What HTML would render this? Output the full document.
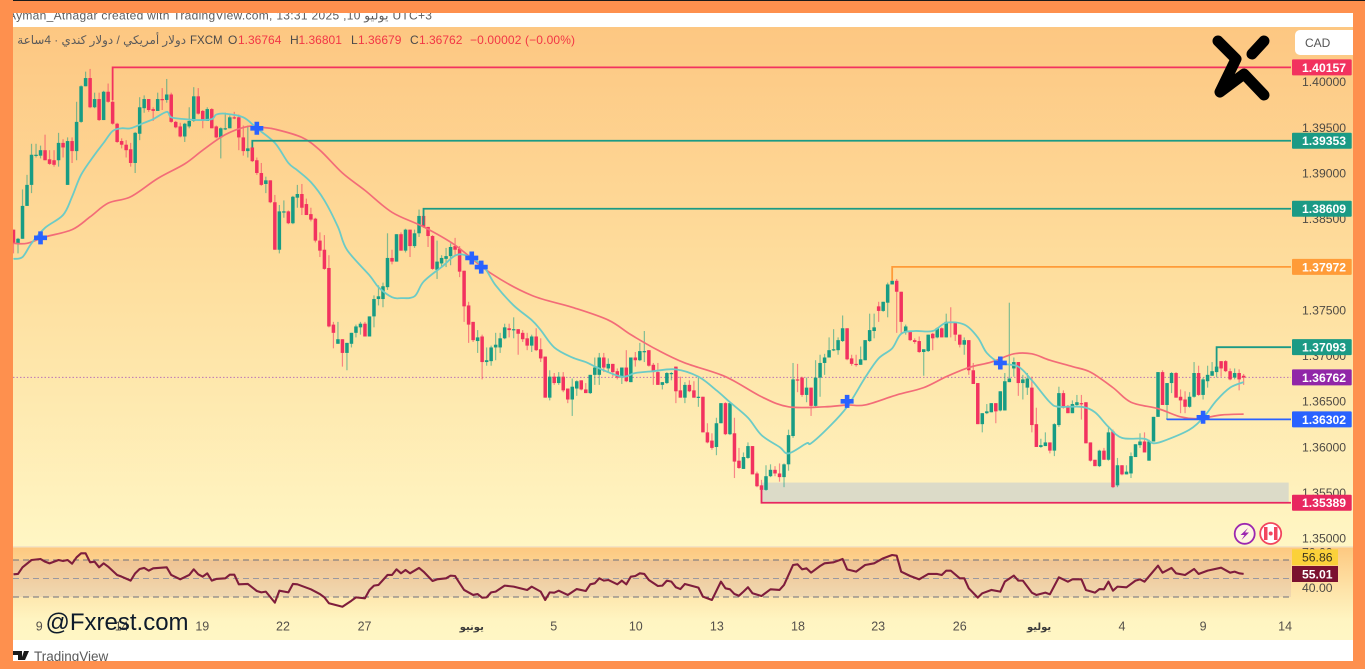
<!DOCTYPE html>
<html lang="en">
<head>
<meta charset="utf-8">
<title>USD/CAD 4H chart</title>
<style>
html,body{margin:0;padding:0;background:#fe904e;}
#chart{display:block;width:1365px;height:669px;overflow:hidden;font-family:"Liberation Sans","DejaVu Sans",sans-serif;}
</style>
</head>
<body>
<svg id="chart" xmlns="http://www.w3.org/2000/svg" width="1365" height="669" viewBox="0 0 1365 669">
<defs>
<linearGradient id="mainBg" x1="0" y1="0" x2="0" y2="1"><stop offset="0" stop-color="#fdc782"/><stop offset="0.5" stop-color="#fedf9f"/><stop offset="1" stop-color="#fff6c4"/></linearGradient>
<linearGradient id="rsiBg" x1="0" y1="0" x2="0" y2="1"><stop offset="0" stop-color="#fdc880"/><stop offset="0.45" stop-color="#fee3a8"/><stop offset="0.8" stop-color="#fff5c2"/><stop offset="1" stop-color="#fff6c4"/></linearGradient>
</defs>
<rect x="0" y="0" width="1365" height="27" fill="#ffffff"/>
<text x="8" y="19.5" font-size="12" fill="#5c5c5c" textLength="424" lengthAdjust="spacing">Ayman_Athagar created with TradingView.com, 13:31 2025 ,10 يوليو UTC+3</text>
<rect x="13" y="27" width="1340" height="520" fill="url(#mainBg)"/>
<rect x="13" y="547" width="1340" height="93" fill="url(#rsiBg)"/>
<rect x="13" y="546" width="1340" height="1.5" fill="#f3e4c4"/>
<rect x="0" y="640" width="1365" height="21" fill="#ffffff"/>
<g id="priceAxis"></g>
<g id="timeAxis"></g>
<g id="rsiPane"></g>
<g id="zone"></g>
<g id="candles"></g>
<g id="maLines"></g>
<g id="levels"></g>
<g id="markers"></g>
<g id="tags"></g>

<g font-size="12">
<text x="186" y="44" font-size="11.9" fill="#5a5a5a" style="direction:rtl" text-anchor="start">دولار أمريكي / دولار كندي · 4ساعة</text>
<text x="190" y="44" font-size="11.5" fill="#4a4a4a">FXCM</text>
<text x="228" y="44" fill="#4a4a4a">O</text>
<text x="238" y="44" fill="#f23645">1.36764</text>
<text x="290" y="44" fill="#4a4a4a">H</text>
<text x="298.5" y="44" fill="#f23645">1.36801</text>
<text x="351" y="44" fill="#4a4a4a">L</text>
<text x="358" y="44" fill="#f23645">1.36679</text>
<text x="410" y="44" fill="#4a4a4a">C</text>
<text x="419" y="44" fill="#f23645">1.36762</text>
<text x="470" y="44" fill="#f23645" textLength="105" lengthAdjust="spacing">−0.00002 (−0.00%)</text>
</g>

<g>
<path d="M1353 30H1300a5 5 0 0 0-5 5V50a5 5 0 0 0 5 5H1353Z" fill="#ffffff"/>
<text x="1305" y="47" font-size="12" fill="#555555">CAD</text>
</g>

<g fill="none" stroke="#000000" stroke-width="11" stroke-linecap="round" stroke-linejoin="round">
<path d="M1218 41L1236 59L1220 92L1244 74L1264 95"/>
<path d="M1252 54L1264 41"/>
</g>

<g>
<circle cx="1244.7" cy="533.8" r="10" fill="#fff6e0" stroke="#9c27b0" stroke-width="1.8"/>
<path d="M1248 528L1240.5 535H1244.5L1241.5 540L1249 532.5H1245Z" fill="#9c27b0"/>
<circle cx="1270.7" cy="533.5" r="10.5" fill="#ffffff" stroke="#f2455f" stroke-width="1.8"/>
<path d="M1264 527h3.5v13h-3.5zM1274 527h3.5v13h-3.5z" fill="#f2455f"/>
<circle cx="1270.7" cy="533.5" r="2" fill="#f2455f"/>
</g>

<text x="45.5" y="630" font-size="24" fill="#0d1a2a">@Fxrest.com</text>
<g>
<path d="M13 651h9v9h-4v-5h-5zM24 651h5l-4 9h-4z" fill="#1a1a1a"/>
<text x="34" y="661" font-size="13.5" fill="#5a5a5a">TradingView</text>
</g>

<g fill="#fe904e">
<rect x="0" y="0" width="1365" height="13"/>
<rect x="0" y="0" width="1365" height="1" fill="#1a1a1a"/>
<rect x="0" y="0" width="13" height="669"/>
<rect x="1353" y="1" width="12" height="668"/>
<rect x="0" y="661" width="1365" height="8"/>
</g>
</svg>

<script>
// Candle data in pips above basePrice (1 pip = 0.0001)
const basePrice = 1.35;
const opens = [338,
323,328,364,387,419,419,425,415,414,414,
433,387,435,424,456,495,504,472,481,458,
489,478,454,435,431,426,411,443,471,481,
470,468,481,480,486,456,451,440,451,457,
484,468,457,470,451,439,448,449,461,461,
439,424,428,414,400,388,392,368,316,357,
358,345,373,377,366,355,350,326,316,296,
234,213,218,203,213,225,231,235,221,243,
262,262,275,307,303,333,315,338,320,334,
353,341,331,294,301,306,309,320,317,293,
255,237,216,221,193,194,209,209,219,230,
228,229,225,219,211,221,207,199,154,177,
170,177,164,152,164,173,163,159,179,179,
198,186,191,183,176,187,171,198,195,204,
206,190,182,168,170,180,188,162,154,168,
162,154,155,116,107,100,126,148,114,115,
85,76,88,101,71,58,53,68,75,71,
67,81,112,174,176,157,165,145,176,192,
198,206,206,216,230,197,191,190,195,216,
227,254,249,258,278,282,270,226,227,217,
216,204,205,224,220,230,220,237,236,223,
212,217,184,170,125,137,138,148,140,140,
171,186,193,170,165,165,125,100,101,105,
96,124,159,145,137,146,148,149,105,86,
79,96,86,117,58,80,70,71,89,102,
106,85,106,133,182,146,170,181,155,152,
144,155,181,157,172,178,182,194,194,183,
176,181,178];
const closes = [323,
328,364,387,420,420,425,414,410,409,433,
428,435,424,456,495,504,472,481,458,489,
478,454,434,431,425,411,444,472,481,469,
468,481,480,486,456,450,440,454,457,484,
465,457,470,449,439,449,449,461,460,439,
424,427,413,400,387,392,368,316,358,358,
345,374,377,362,354,349,326,315,295,232,
225,218,203,214,225,232,235,221,243,262,
265,276,307,303,333,315,338,320,334,353,
341,331,295,303,307,309,319,316,292,254,
234,217,220,193,195,209,212,219,231,228,
229,224,218,211,221,206,197,154,177,170,
177,162,152,166,172,163,159,179,187,198,
187,191,182,176,187,172,198,195,205,205,
189,182,168,171,181,181,161,154,168,161,
154,155,116,105,99,126,148,114,148,84,
77,89,101,70,57,53,68,75,71,67,
81,113,174,173,157,165,145,176,192,198,
206,207,217,230,196,191,190,196,217,228,
231,249,259,278,282,270,237,232,217,215,
204,207,223,219,230,220,237,236,223,212,
217,184,169,125,137,139,148,139,161,172,
175,193,170,174,175,124,100,102,105,96,
125,159,143,137,147,149,147,104,85,79,
96,86,116,56,80,70,73,90,103,106,
94,106,133,182,146,170,181,154,151,144,
155,181,157,174,179,183,188,186,183,174,
181,174,176];
const highs = [338,
329,382,398,432,432,430,442,425,425,444,
437,439,439,478,496,511,514,488,488,490,
498,485,455,438,436,433,445,483,485,481,
472,488,493,503,488,457,455,455,472,494,
493,469,472,471,452,450,466,463,467,464,
452,452,434,417,411,396,392,376,365,370,
359,375,387,388,372,362,351,335,332,310,
237,237,218,214,225,234,237,237,243,266,
277,280,334,316,333,335,339,338,338,360,
360,341,332,326,310,318,323,329,320,293,
259,237,228,223,209,211,225,225,235,235,
242,229,228,225,223,230,219,199,184,181,
182,182,164,175,173,173,170,179,198,203,
203,197,191,186,187,206,198,204,214,227,
206,192,192,171,182,182,188,177,171,173,
172,176,155,126,115,132,148,149,148,132,
99,94,105,101,73,64,80,81,79,82,
82,119,192,191,177,176,165,195,201,202,
220,229,220,244,230,201,201,210,217,246,
246,259,259,280,297,284,270,234,227,219,
221,207,223,225,231,231,246,253,237,223,
220,217,192,170,137,147,148,148,161,181,
258,198,193,179,181,177,143,109,116,105,
126,166,162,146,151,157,157,149,105,86,
97,99,123,119,88,80,80,94,103,115,
116,108,133,182,184,170,182,182,163,161,
160,193,189,176,189,193,208,194,195,186,
186,185,180];
const lows = [312,
312,328,364,378,417,416,414,409,407,407,
417,387,411,414,455,495,471,471,457,458,
477,453,433,427,417,407,400,436,466,467,
457,468,469,477,455,449,439,434,449,456,
464,449,457,449,438,416,447,449,459,425,
419,417,412,398,386,378,367,316,312,351,
344,344,362,354,354,347,324,308,294,231,
208,213,188,184,209,220,223,221,221,231,
255,253,272,300,303,315,313,308,318,330,
340,319,294,284,297,297,299,310,286,237,
214,215,203,174,189,189,195,203,218,220,
219,201,215,206,204,205,193,154,151,168,
168,160,148,134,156,162,159,158,168,168,
182,181,177,174,169,171,171,188,194,193,
188,168,168,163,169,173,148,154,148,160,
154,144,116,104,97,91,126,113,113,66,
76,76,87,70,56,40,52,67,68,62,
56,74,110,160,155,149,134,143,155,179,
198,205,201,215,195,189,188,190,195,215,
219,237,248,242,278,225,225,223,216,213,
203,178,204,206,219,220,220,220,216,209,
201,179,169,125,116,136,138,126,139,140,
171,177,156,152,157,116,100,99,101,93,
90,122,142,137,137,145,130,104,84,79,
78,86,85,55,56,69,70,66,89,99,
94,85,106,133,146,130,159,154,137,137,
143,154,156,152,165,178,176,177,182,173,
174,162,168];

// Moving averages: bar index and value (pips above basePrice)
const fastMaBars = [0,2,4,7,11,13,15,18,20,22,24,26,29,31,34,35,38,41,44,45,47,51,54,58,61,63,66,69,72,74,79,81,84,86,89,91,95,99,104,107,111,115,117,120,124,127,130,135,138,142,147,152,156,159,163,166,170,172,176,177,181,185,189,192,195,197,200,204,207,211,214,216,219,223,226,230,232,237,240,243,246,251,253,256,261,264,267,270,273];
const fastMaValues = [306,308,323,340,354,374,398,420,433,446,449,449,455,459,467,461,459,458,459,464,465,461,449,433,411,403,390,370,341,316,288,275,264,263,265,281,297,311,299,277,255,239,228,209,198,193,186,177,181,183,185,177,162,149,132,113,100,93,104,104,122,144,176,197,208,224,227,227,236,234,220,203,192,188,173,149,144,144,138,122,110,109,104,108,119,132,151,165,171];
const slowMaBars = [0,3,7,13,17,21,26,32,38,42,47,52,55,58,64,68,73,78,84,91,98,106,115,124,132,137,143,149,158,166,172,180,185,189,196,202,207,212,217,222,226,230,235,239,244,248,254,259,263,268,273];
const slowMaValues = [323,323,330,338,352,367,374,394,410,425,442,451,450,448,439,425,400,381,357,341,321,290,266,253,239,223,206,192,177,155,144,144,146,146,157,165,177,187,193,202,202,195,188,182,165,149,142,133,131,135,136];

// Crossover markers
const crossBars = [6,54,101.7,103.8,185,219,264];
const crossValues = [329,449,307,297,150,192,132.5];

// Horizontal levels
const levelPrices = [1.40157,1.39353,1.38609,1.37972,1.37093,1.36302,1.35389];
const levelStartBars = [22,53,91,195,267,256,166];
const levelStemValues = [480,428,343,282,186,130,53];
const lastPrice = 1.36762;
const zoneBars = [166,283];
const zonePrices = [1.3561,1.3539];

// Axis labels
const priceTicks = [1.40,1.395,1.39,1.385,1.38,1.375,1.37,1.365,1.36,1.355,1.35];
const timeTickBars = [5.7,24,41.9,59.8,77.9,101.7,119.9,138.1,156.1,174.1,191.9,210,227.6,246,264,282.2];
const timeTickLabels = ['9','14','19','22','27','يونيو','5','10','13','18','23','26','يوليو','4','9','14'];

// RSI
const rsiBars = [0,1,2,4,6,7,8,10,11,12,13,14,15,16,17,18,19,20,21,23,24,26,27,28,29,30,31,34,35,37,39,40,41,42,43,44,45,47,48,49,50,52,54,55,56,58,59,61,62,63,66,68,69,70,73,75,76,78,79,80,81,83,84,85,86,87,88,90,91,93,94,96,97,98,99,100,102,103,104,105,106,107,109,111,114,115,117,118,119,120,121,123,125,127,128,129,130,131,132,134,135,136,137,138,139,140,141,143,144,145,146,147,148,149,152,153,155,157,158,159,160,161,162,163,164,166,168,170,171,173,174,175,176,177,179,180,182,184,185,187,189,191,193,195,196,197,199,201,203,205,206,207,208,210,211,212,214,215,217,219,220,222,223,224,226,227,229,230,232,234,235,237,238,240,241,242,243,244,245,247,249,250,251,254,255,257,258,260,262,263,265,268,270,271,272,273];
const rsiValues = [54.5,54.9,62.1,70,71.1,68.2,66.4,70,68.9,70,66,72.9,77.2,77.2,67.5,68.2,62.1,66.4,62.8,53.8,52,47.7,55.6,60.3,61.4,58.5,61,62.1,53.8,49.1,53.8,59.9,54.5,52,55.6,47.7,49.5,50.2,54.1,54.1,43.7,44.1,36.5,35,35.8,23.9,36.8,35,44.1,43.7,38.3,33.2,29.6,23.2,19.5,26,29.6,28.6,37.6,42.3,43,53.8,53.8,59.9,55.6,59.2,55.6,61.4,57.4,47.3,49.1,50.2,53.1,52.7,45,37.6,32.2,33.2,29.3,29.6,35,35.8,42.3,41.2,37.6,41.2,35.8,26.8,35,34.7,36.8,32.2,38.6,36.5,43.7,44.8,50.2,47.7,48.4,43.7,47.7,43.7,52,52.7,55.6,54.9,48.4,41.9,42.3,47.7,46.6,40.5,38.6,44.1,40.1,30.4,26.8,46.6,39.4,38.3,33.2,31.4,35.8,40.5,34,31.1,38.3,37.6,43,64.6,65.3,59.9,61,56.3,63.5,66.4,67.5,71.1,59.9,57.4,64.6,66.4,71.8,75.4,74.7,57.4,52.7,49.1,54.9,54.9,53.8,58.5,58.5,50.2,50.2,39.4,29.3,34,37.6,35.8,46.6,53.1,47.7,47.7,34.7,32.2,34.7,32.9,51.3,46.6,49.1,49.1,37.6,34.7,38.6,38.3,46.6,36.8,41.2,40.5,47.7,49.1,46.6,63.9,56.3,61.4,55.6,53.8,60.3,54.9,58.5,61.7,56.3,57.4,55.6,55.01];
const rsiBandLevels = [70,50,30];
const rsiAxisTicks = [70,40];
const rsiLast = 55.01;
const rsiMaLast = 56.86;

// Axis functions
const SVGNS = 'http://www.w3.org/2000/svg';
function xOf(bar){ return 13.5 + 4.506 * bar; }
function yOfPrice(p){ return 538.3 - (p - basePrice) * 9132; }
function yOfPips(v){ return yOfPrice(basePrice + v / 10000); }
function yOfRsi(v){ return 578.5 + (50 - v) * 0.925; }
function add(parentId, tag, attrs, text){
  const n = document.createElementNS(SVGNS, tag);
  for (const k in attrs) n.setAttribute(k, attrs[k]);
  if (text !== undefined) n.textContent = text;
  document.getElementById(parentId).appendChild(n);
  return n;
}
// Catmull-Rom spline through the moving-average samples
function smoothPath(bars, values){
  const pts = bars.map(function(b,i){ return [xOf(b), yOfPips(values[i])]; });
  let d = 'M' + pts[0][0] + ' ' + pts[0][1];
  for (let i = 0; i < pts.length - 1; i++){
    const p0 = pts[Math.max(i-1,0)], p1 = pts[i], p2 = pts[i+1], p3 = pts[Math.min(i+2,pts.length-1)];
    d += 'C' + (p1[0]+(p2[0]-p0[0])/6) + ' ' + (p1[1]+(p2[1]-p0[1])/6) + ' ' +
         (p2[0]-(p3[0]-p1[0])/6) + ' ' + (p2[1]-(p3[1]-p1[1])/6) + ' ' + p2[0] + ' ' + p2[1];
  }
  return d;
}

const UP = '#179c84', DOWN = '#f2325f';
const levelColors = ['#f2325f','#1b9a85','#1b9a85','#ff9b38','#1b9a85','#2962ff','#e8275f'];

// Price axis labels
priceTicks.forEach(function(p){
  const t = add('priceAxis','text',{x:1302,y:yOfPrice(p)+4.4,'font-size':12.2,fill:'#4e4a44'},p.toFixed(5));
  
  
});

// Time axis labels
timeTickBars.forEach(function(b,i){
  const arabic = timeTickLabels[i].length > 2;
  const t = add('timeAxis','text',{x:xOf(b),y:arabic?630:630.5,'text-anchor':'middle','font-size':arabic?10:12.5,'font-weight':arabic?'bold':'normal',fill:arabic?'#3a3a3a':'#54504a'},timeTickLabels[i]);
  
  
});

// RSI pane
const bandRect = add('rsiPane','rect',{x:13,y:yOfRsi(rsiBandLevels[0]),width:1278,height:yOfRsi(rsiBandLevels[2])-yOfRsi(rsiBandLevels[0]),fill:'rgba(126,87,194,0.11)'});


rsiBandLevels.forEach(function(v,i){
  const l = add('rsiPane','line',{x1:13,x2:1291,y1:yOfRsi(v),y2:yOfRsi(v),stroke:i===1?'#9a98a0':'#6e6f7c','stroke-width':1,'stroke-dasharray':'6 4'});
  
  
});
const rsiLine = add('rsiPane','polyline',{points:rsiBars.map(function(b,i){return xOf(b)+','+yOfRsi(rsiValues[i]);}).join(' '),fill:'none',stroke:'#7f1d3c','stroke-width':2.1,'stroke-linejoin':'round'});


rsiAxisTicks.forEach(function(v){
  const t = add('rsiPane','text',{x:1302,y:(v===70?556.5:yOfRsi(v)+4.4),'font-size':12.2,fill:'#4e4a44'},v.toFixed(2));
  
  
});

// Support zone
const zoneRect = add('zone','rect',{x:xOf(zoneBars[0]),y:yOfPrice(zonePrices[0]),width:xOf(zoneBars[1])-xOf(zoneBars[0]),height:yOfPrice(zonePrices[1])-yOfPrice(zonePrices[0]),fill:'#dcdbc8'});



// Last price dotted line
const lastLine = add('zone','line',{x1:13,x2:1291,y1:yOfPrice(lastPrice),y2:yOfPrice(lastPrice),stroke:'#a44fb8','stroke-width':1,'stroke-dasharray':'1.5 2','stroke-opacity':0.75});



// Candles
opens.forEach(function(o,i){
  const c = closes[i], col = c >= o ? UP : DOWN, x = xOf(i);
  const wick = add('candles','line',{x1:x,x2:x,y1:yOfPips(highs[i]),y2:yOfPips(lows[i]),stroke:col,'stroke-width':1.2,'stroke-opacity':0.55});
  
  
  const top = yOfPips(Math.max(o,c)), bot = yOfPips(Math.min(o,c));
  const body = add('candles','rect',{x:x-1.75,y:top,width:3.5,height:Math.max(bot-top,1.2),fill:col});
  
  
});

// Moving averages
const slowLine = add('maLines','path',{d:smoothPath(slowMaBars,slowMaValues),fill:'none',stroke:'#f36c78','stroke-width':1.7,'stroke-linejoin':'round'});


const fastLine = add('maLines','path',{d:smoothPath(fastMaBars,fastMaValues),fill:'none',stroke:'#6ccbc6','stroke-width':1.8,'stroke-linejoin':'round'});



// Levels
levelPrices.forEach(function(p,i){
  const y = yOfPrice(p), x = xOf(levelStartBars[i]);
  const l = add('levels','path',{d:'M'+x+' '+yOfPips(levelStemValues[i])+'L'+x+' '+y+'L1291 '+y,fill:'none',stroke:levelColors[i],'stroke-width':1.8});
  
  
});

// Cross markers
crossBars.forEach(function(b,i){
  const x = xOf(b), y = yOfPips(crossValues[i]);
  const m = add('markers','path',{d:'M'+(x-6.5)+' '+y+'H'+(x+6.5)+'M'+x+' '+(y-6.5)+'V'+(y+6.5),stroke:'#2962ff','stroke-width':4.6,fill:'none'});
  
  
});

// Price tags on the axis
const tagPrices = levelPrices.concat([lastPrice]);
const tagColors = levelColors.concat(['#9126a8']);
tagPrices.forEach(function(p,i){
  const y = yOfPrice(p);
  const box = add('tags','rect',{x:1292,y:y-8,width:59.7,height:16,fill:tagColors[i],rx:1});
  
  
  const t = add('tags','text',{x:1302,y:y+4.4,'font-size':12.2,'font-weight':'bold',fill:'#ffffff'},p.toFixed(5));
  
  
});
const rsiMaBox = add('tags','rect',{x:1292,y:549.3,width:46,height:16,fill:'#fbd13a'});


const rsiMaText = add('tags','text',{x:1302,y:561.6,'font-size':12.2,fill:'#3a3420'},rsiMaLast.toFixed(2));


const rsiBox = add('tags','rect',{x:1292,y:566,width:46,height:16,fill:'#7b112f'});


const rsiText = add('tags','text',{x:1302,y:578.3,'font-size':12.2,'font-weight':'bold',fill:'#ffffff'},rsiLast.toFixed(2));


</script>
</body>
</html>
